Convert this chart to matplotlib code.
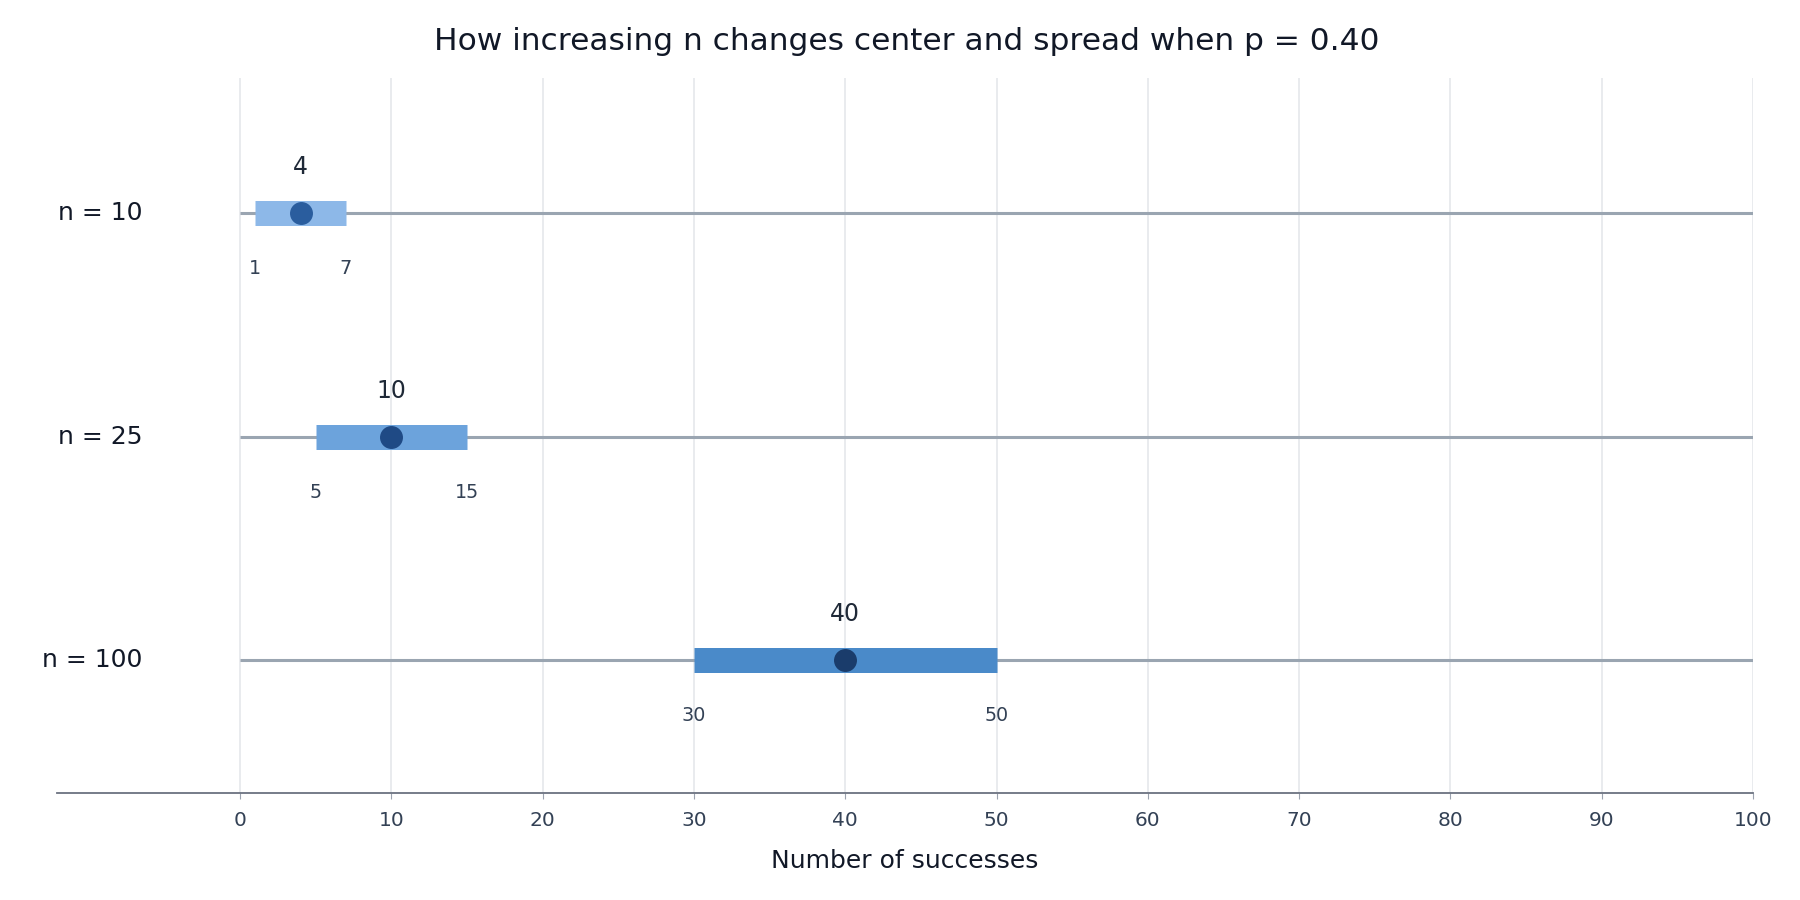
import numpy as np
import matplotlib.pyplot as plt

# binomial ranges for p = 0.40
labels = ["n = 10", "n = 25", "n = 100"]
means = [4, 10, 40]
lows = [1, 5, 30]
highs = [7, 15, 50]
ticks = list(range(0, 101, 10))

bar_colors = ["#8db8e8", "#6ca3dc", "#4a8ac9"]
dot_colors = ["#2a5d9e", "#1f4a85", "#1a3c6b"]

fig = plt.figure(figsize=(18, 9), dpi=100)
ax = fig.add_axes([57 / 1800, 1 - 793 / 900, (1753 - 57) / 1800, (793 - 78) / 900])

ax.set_xlim(-12.1, 100)
ax.set_ylim(2.595, -0.605)

for x in ticks:
    ax.axvline(x, color="#e5e7eb", lw=1.2, zorder=0)

for i, lab in enumerate(labels):
    ax.plot([0, 100], [i, i], color="#9aa5b1", lw=2.2, zorder=1, solid_capstyle="butt")
    ax.plot([lows[i], highs[i]], [i, i], color=bar_colors[i], lw=18, zorder=2,
            solid_capstyle="butt")
    ax.plot(means[i], i, "o", color=dot_colors[i], ms=15.5, zorder=3)
    ax.annotate(str(means[i]), (means[i], i), xytext=(0, 33), textcoords="offset points",
                ha="center", va="center", fontsize=17, color="#1f2937")
    for v in (lows[i], highs[i]):
        ax.annotate(str(v), (v, i), xytext=(0, -40), textcoords="offset points",
                    ha="center", va="center", fontsize=13.8, color="#334155")
    ax.text(-6.45, i, lab, ha="right", va="center", fontsize=18, color="#111827")

ax.set_yticks([])
ax.set_xticks(ticks)
ax.tick_params(axis="x", length=4, color="#9ca3af", pad=9, labelsize=14.5, labelcolor="#334155")
for s in ("top", "right", "left"):
    ax.spines[s].set_visible(False)
ax.spines["bottom"].set_color("#6b7280")
ax.spines["bottom"].set_linewidth(1.3)

ax.set_xlabel("Number of successes", fontsize=18, color="#111827", labelpad=14)
fig.text(0.5035, 1 - 42 / 900, "How increasing n changes center and spread when p = 0.40",
         ha="center", va="center", fontsize=22.5, color="#111827")

fig.savefig("out.png", dpi=100, facecolor="white")
